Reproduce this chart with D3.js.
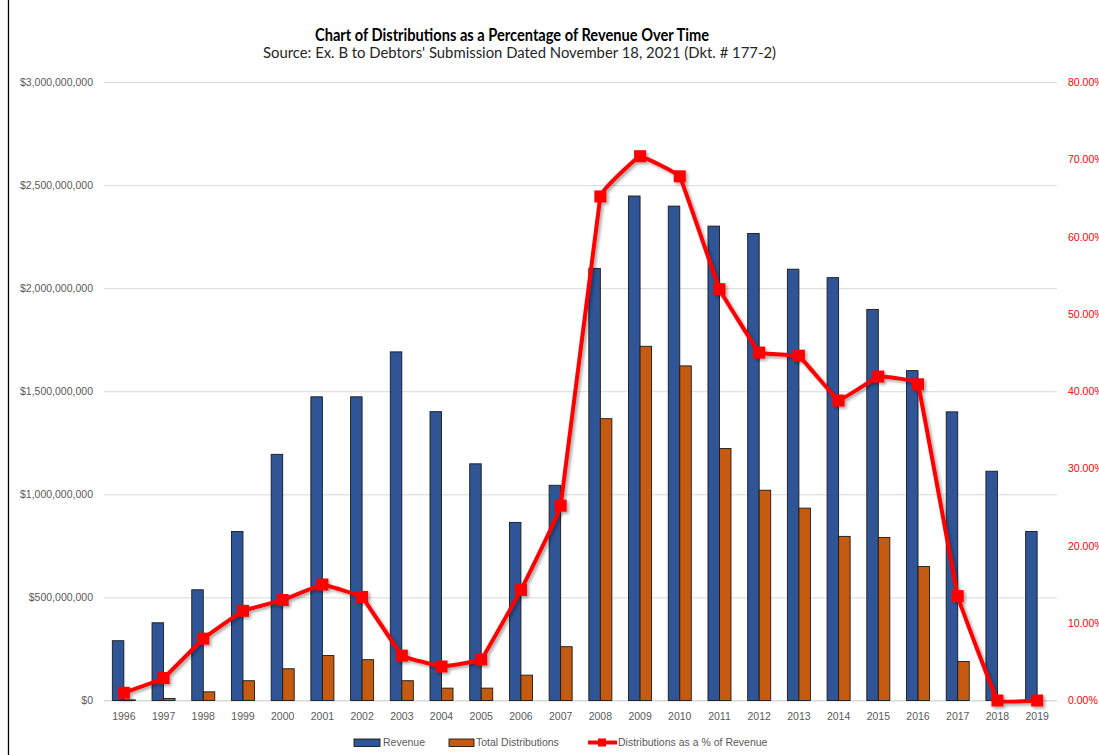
<!DOCTYPE html>
<html>
<head>
<meta charset="utf-8">
<script src="https://cdn.jsdelivr.net/npm/d3@7/dist/d3.min.js"></script>
<style>
	html, body { margin: 0; padding: 0; background: #fff; }
	svg { display: block; }
	.axis text { font-family: "Liberation Sans", Arial, sans-serif; font-size: 10.5px; fill: #595959; }
	.axis--pct text { fill: #ff0000; font-size: 10.5px; }
	.axis .domain { display: none; }
	.grid line { stroke: #d9d9d9; stroke-width: 1px; }
	.grid .domain { display: none; }
	.legend text { font-family: "Liberation Sans", Arial, sans-serif; font-size: 10.5px; fill: #595959; }
</style>
</head>
<body>
<div id="chart"></div>
<script>
(function () {
	"use strict";

	// values
	var years = ["1996", "1997", "1998", "1999", "2000", "2001", "2002", "2003", "2004", "2005", "2006", "2007",
		"2008", "2009", "2010", "2011", "2012", "2013", "2014", "2015", "2016", "2017", "2018", "2019"];
	// dollars, in millions
	var revenue = [290, 377, 537, 820, 1194, 1473, 1473, 1691, 1401, 1148, 864, 1044,
		2096, 2447, 2398, 2301, 2265, 2092, 2051, 1897, 1600, 1400, 1112, 820];
	var distributions = [3, 10, 42, 96, 154, 218, 198, 96, 60, 60, 123, 261,
		1367, 1718, 1623, 1222, 1020, 933, 796, 791, 650, 189, 0, 0];
	// percent of revenue
	var pctOfRevenue = [1.0, 2.9, 8.0, 11.6, 13.0, 15.0, 13.4, 5.8, 4.4, 5.3, 14.3, 25.2,
		65.2, 70.4, 67.8, 53.2, 45.0, 44.6, 38.8, 41.9, 40.9, 13.5, 0, 0];
	var dollarTicks = [0, 500e6, 1000e6, 1500e6, 2000e6, 2500e6, 3000e6];
	var pctTicks = [0, 0.1, 0.2, 0.3, 0.4, 0.5, 0.6, 0.7, 0.8];
	var seriesNames = ["Revenue", "Total Distributions", "Distributions as a % of Revenue"];

	var canvasWidth = 1099,
		canvasHeight = 755,
		plot = {left: 104, right: 1057, top: 82, bottom: 700.5},
		blue = "#2f5597",
		orange = "#c55a11",
		red = "#ff0000";

	var svg = d3.select("#chart").append("svg")
		.attr("width", canvasWidth)
		.attr("height", canvasHeight);

	var defs = svg.append("defs");
	defs.append("filter")
		.attr("id", "shadow")
		.attr("x", "-10%").attr("y", "-10%")
		.attr("width", "130%").attr("height", "130%")
		.append("feDropShadow")
		.attr("dx", 2).attr("dy", 2)
		.attr("stdDeviation", 1.5)
		.attr("flood-color", "#000")
		.attr("flood-opacity", 0.35);

	// chart frame (only the left edge is inside the picture)
	svg.append("line")
		.attr("x1", 8.5).attr("x2", 8.5)
		.attr("y1", 0).attr("y2", canvasHeight)
		.attr("stroke", "#000")
		.attr("stroke-width", 1.3);

	// titles
	svg.append("text")
		.attr("x", 512).attr("y", 41)
		.attr("text-anchor", "middle")
		.attr("textLength", 394)
		.attr("lengthAdjust", "spacingAndGlyphs")
		.style("font-family", "Lato, 'Open Sans', sans-serif")
		.style("font-weight", "bold")
		.style("font-size", "16.5px")
		.style("fill", "#000")
		.text("Chart of Distributions as a Percentage of Revenue Over Time");

	svg.append("text")
		.attr("x", 519.5).attr("y", 58)
		.attr("text-anchor", "middle")
		.attr("textLength", 513)
		.attr("lengthAdjust", "spacingAndGlyphs")
		.style("font-family", "Lato, 'Open Sans', sans-serif")
		.style("font-size", "15.5px")
		.style("fill", "#262626")
		.text("Source:  Ex. B to Debtors' Submission Dated November 18, 2021 (Dkt. # 177-2)");

	var x0 = d3.scaleBand()
			.domain(years)
			.range([plot.left, plot.right])
			.paddingInner(0.42)
			.paddingOuter(0.21),
		x1 = d3.scaleBand()
			.domain(["rev", "dist"])
			.range([0, x0.bandwidth()]),
		y = d3.scaleLinear()
			.domain([0, 3000e6])
			.range([plot.bottom, plot.top]),
		yPct = d3.scaleLinear()
			.domain([0, 0.8])
			.range([plot.bottom, plot.top]);

	// gridlines
	svg.append("g")
		.attr("class", "grid")
		.attr("transform", "translate(" + plot.left + ",0)")
		.call(d3.axisLeft(y).tickValues(dollarTicks).tickSize(-(plot.right - plot.left)).tickFormat(""));

	svg.append("g")
		.attr("class", "axis axis--dollar")
		.attr("transform", "translate(" + plot.left + ",0)")
		.call(d3.axisLeft(y).tickValues(dollarTicks).tickSize(0).tickPadding(11)
			.tickFormat(function (d) { return d3.format("$,.0f")(d); }));

	svg.append("g")
		.attr("class", "axis axis--pct")
		.attr("transform", "translate(" + plot.right + ",0)")
		.call(d3.axisRight(yPct).tickValues(pctTicks).tickSize(0).tickPadding(11)
			.tickFormat(d3.format(".2%")));

	svg.append("g")
		.attr("class", "axis axis--x")
		.attr("transform", "translate(0," + plot.bottom + ")")
		.call(d3.axisBottom(x0).tickSize(0).tickPadding(12));

	svg.append("line")
		.attr("x1", plot.left).attr("x2", plot.right)
		.attr("y1", plot.bottom).attr("y2", plot.bottom)
		.attr("stroke", "#d9d9d9")
		.attr("stroke-width", 1);

	// bars
	var rows = years.map(function (yr, i) {
		return {year: yr, rev: revenue[i] * 1e6, dist: distributions[i] * 1e6, pct: pctOfRevenue[i] / 100};
	});

	var groups = svg.append("g").selectAll("g")
		.data(rows)
		.enter().append("g")
		.attr("transform", function (d) { return "translate(" + x0(d.year) + ",0)"; });

	groups.append("rect")
		.attr("x", x1("rev"))
		.attr("y", function (d) { return y(d.rev); })
		.attr("width", x1.bandwidth())
		.attr("height", function (d) { return y(0) - y(d.rev); })
		.attr("fill", blue)
		.attr("stroke", "#1a1a1a")
		.attr("stroke-width", 0.9);

	groups.filter(function (d) { return d.dist > 0; }).append("rect")
		.attr("x", x1("dist"))
		.attr("y", function (d) { return y(d.dist); })
		.attr("width", x1.bandwidth())
		.attr("height", function (d) { return y(0) - y(d.dist); })
		.attr("fill", orange)
		.attr("stroke", "#1a1a1a")
		.attr("stroke-width", 0.9);

	// percentage line, only lightly smoothed like the spreadsheet's
	var cx = function (d) { return x0(d.year) + x0.bandwidth() / 2; };
	var line = d3.line()
		.x(cx)
		.y(function (d) { return yPct(d.pct); })
		.curve(d3.curveCardinal.tension(0.86));

	var lineLayer = svg.append("g").attr("filter", "url(#shadow)");
	lineLayer.append("path")
		.datum(rows)
		.attr("d", line)
		.attr("fill", "none")
		.attr("stroke", red)
		.attr("stroke-width", 4)
		.attr("stroke-linejoin", "round");

	var mk = 12;
	lineLayer.selectAll("rect")
		.data(rows)
		.enter().append("rect")
		.attr("x", function (d) { return cx(d) - mk / 2; })
		.attr("y", function (d) { return yPct(d.pct) - mk / 2; })
		.attr("width", mk)
		.attr("height", mk)
		.attr("fill", red);

	// legend
	var legend = svg.append("g").attr("class", "legend");
	var lgY = 742.5;

	legend.append("rect")
		.attr("x", 354).attr("y", lgY - 3.5)
		.attr("width", 26).attr("height", 7.5)
		.attr("fill", blue).attr("stroke", "#1a1a1a").attr("stroke-width", 0.9);
	legend.append("text").attr("x", 383).attr("y", lgY + 3.8).text(seriesNames[0]);

	legend.append("rect")
		.attr("x", 449).attr("y", lgY - 3.5)
		.attr("width", 25).attr("height", 7.5)
		.attr("fill", orange).attr("stroke", "#1a1a1a").attr("stroke-width", 0.9);
	legend.append("text").attr("x", 476).attr("y", lgY + 3.8).text(seriesNames[1]);

	legend.append("line")
		.attr("x1", 588).attr("x2", 617)
		.attr("y1", lgY).attr("y2", lgY)
		.attr("stroke", red).attr("stroke-width", 4);
	legend.append("rect")
		.attr("x", 598).attr("y", lgY - 4)
		.attr("width", 8).attr("height", 8)
		.attr("fill", red);
	legend.append("text").attr("x", 618).attr("y", lgY + 3.8).text(seriesNames[2]);
})();
</script>
</body>
</html>
